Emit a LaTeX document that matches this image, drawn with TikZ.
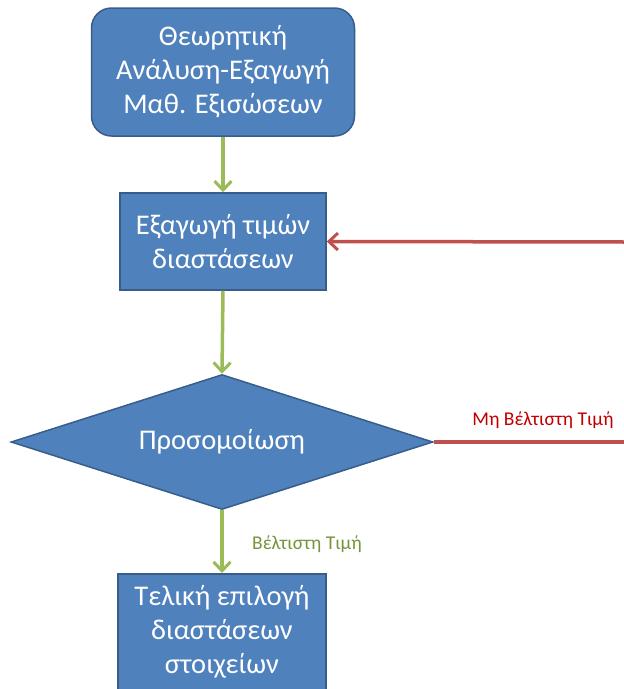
\documentclass[tikz,border=0pt]{standalone}
\usepackage{fontspec}
\setmainfont{Carlito}
\usetikzlibrary{shapes.geometric,arrows.meta}
\definecolor{boxfill}{HTML}{4F81BD}
\definecolor{boxline}{HTML}{385D8A}
\definecolor{arrgreen}{HTML}{9BBB59}
\definecolor{arrred}{HTML}{C0504D}
\definecolor{labred}{HTML}{C00000}
\definecolor{labgreen}{HTML}{77933C}
\begin{document}
\begin{tikzpicture}[x=1pt,y=-1pt,
  procbox/.style={draw=boxline,line width=1.5pt,fill=boxfill,text=white,
    font=\fontsize{28.5}{34}\selectfont,align=center,inner sep=0pt},
  decbox/.style={diamond,draw=boxline,line width=1.5pt,fill=boxfill,text=white,
    font=\fontsize{28.5}{34}\selectfont,inner sep=0pt,aspect=3.13,
    minimum width=422pt,minimum height=135pt},
  garrow/.style={draw=arrgreen,line width=3.5pt,-{Straight Barb[length=9pt,width=17pt,line width=3pt]}},
  rarrow/.style={draw=arrred,line width=3.5pt,-{Straight Barb[length=9pt,width=17pt,line width=3pt]}},
  rline/.style={draw=arrred,line width=3.5pt},
  lab/.style={font=\fontsize{19.5}{22}\selectfont,inner sep=0pt}
]
\useasboundingbox (0,0) rectangle (624,689);
\begin{scope}
\clip (0,0) rectangle (624,689);
\node[procbox,rounded corners=20pt,minimum width=263pt,minimum height=128pt] (a) at (223,72)
  {Θεωρητική\\Ανάλυση-Εξαγωγή\\Μαθ. Εξισώσεων};
\node[procbox,minimum width=206pt,minimum height=97pt] (b) at (223,241.5)
  {Εξαγωγή τιμών\\διαστάσεων};
\node[decbox] (c) at (222,442) {Προσομοίωση};
\node[procbox,minimum width=208pt,minimum height=140pt,anchor=north] (d) at (222,573) {};
\node[procbox,draw=none,fill=none] (dt) at (222,632)
  {Τελική επιλογή\\διαστάσεων\\στοιχείων};
\coordinate (rin) at (626,242);
\coordinate (rout) at (626,442);
\draw[garrow] (a.south) -- (b.north);
\draw[garrow] (b.south) -- (c.north);
\draw[garrow] (c.south) -- (d.north);
\draw[rarrow] (rin) -- (b.east);
\draw[rline] (c.east) -- (rout);
\node[lab,text=labred] (l1) at (543,420) {Μη Βέλτιστη Τιμή};
\node[lab,text=labgreen] (l2) at (307,544) {Βέλτιστη Τιμή};
\end{scope}
\end{tikzpicture}
\end{document}
